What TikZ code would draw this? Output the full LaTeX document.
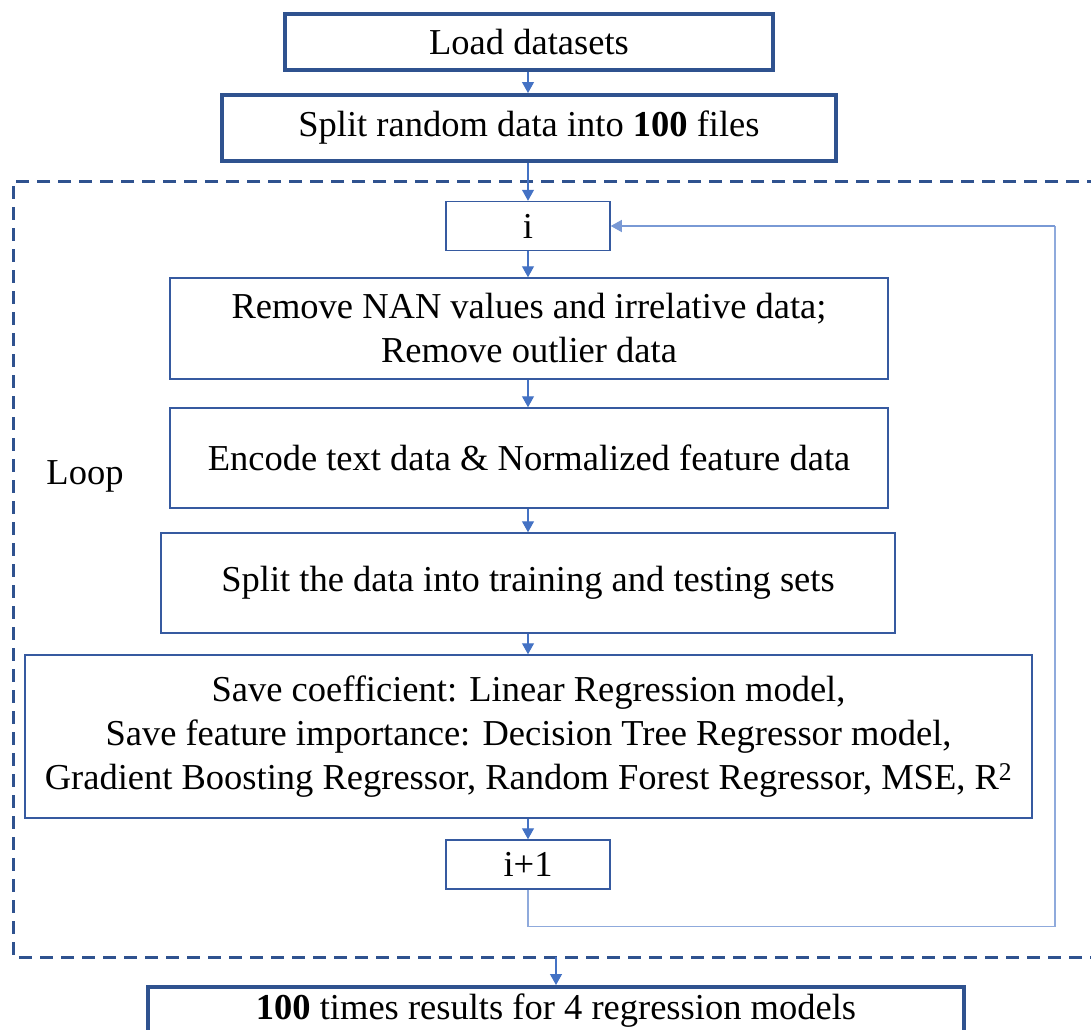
\documentclass[tikz,border=0pt]{standalone}
\usepackage{fontspec}
\setmainfont{Liberation Serif}
\usetikzlibrary{arrows.meta}
\definecolor{darkb}{RGB}{47,82,143}
\definecolor{midb}{RGB}{54,90,160}
\definecolor{arrb}{RGB}{68,114,196}
\definecolor{lightb}{RGB}{143,170,220}
\tikzset{
  thickbox/.style={draw=darkb, line width=4pt, inner sep=0pt, font=\fontsize{36.5}{44}\selectfont},
  thinbox/.style={draw=midb, line width=1.5pt, inner sep=0pt, align=center, font=\fontsize{36.5}{44}\selectfont},
  conn/.style={draw=arrb, line width=1.2pt, -{Triangle[length=11pt,width=12pt]}},
  loopline/.style={draw=lightb, line width=1.2pt},
  loopframe/.style={draw=darkb, line width=3pt, dash pattern=on 13pt off 8pt}
}
\begin{document}
\begin{tikzpicture}[x=1pt,y=-1pt]
\useasboundingbox (0,0) rectangle (1091,1029);
\clip (0,0) rectangle (1091,1029);
% dashed loop frame
\draw[loopframe] (1100,181) -- (13,181) -- (13,957) -- (1100,957);
\node[thickbox, minimum width=488pt, minimum height=56pt] (load) at (529,42) {Load datasets};
\node[thickbox, minimum width=614pt, minimum height=66pt] (split) at (529,128) {Split random data into \textbf{100} files};
\node[thinbox, minimum width=164pt, minimum height=49pt] (i) at (528,226) {i};
\node[thinbox, minimum width=718pt, minimum height=101pt] (remove) at (529,328.5) {Remove NAN values and irrelative data;\\Remove outlier data};
\node[thinbox, minimum width=718pt, minimum height=100pt] (encode) at (529,458) {Encode text data \& Normalized feature data};
\node[thinbox, minimum width=734pt, minimum height=100pt] (sdata) at (528,583) {Split the data into training and testing sets};
\node[thinbox, minimum width=1007pt, minimum height=163pt] (save) at (528.5,736.5) {Save coefficient: Linear Regression model,\\Save feature importance: Decision Tree Regressor model,\\Gradient Boosting Regressor, Random Forest Regressor, MSE, R\textsuperscript{2}};
\node[thinbox, minimum width=164pt, minimum height=49pt] (ip1) at (528,864.5) {i+1};
\node[thickbox, minimum width=816pt, minimum height=48pt, anchor=north] (final) at (556,985) {\textbf{100} times results for 4 regression models};
\node[font=\fontsize{36.5}{44}\selectfont] (loop) at (85,476) {Loop};
\coordinate (fr) at (556,957);
% connectors
\draw[conn] (load.south -| i.north) -- (split.north -| i.north);
\draw[conn] (i.north |- split.south) -- (i.north);
\draw[conn] (i.south) -- (i.south |- remove.north);
\draw[conn] (i.south |- remove.south) -- (i.south |- encode.north);
\draw[conn] (i.south |- encode.south) -- (i.south |- sdata.north);
\draw[conn] (i.south |- sdata.south) -- (i.south |- save.north);
\draw[conn] (i.south |- save.south) -- (ip1.north);
\draw[loopline] (ip1.south) -- ++(0,37) -| (1055,226);
\draw[conn, draw=lightb!70!arrb] (1055,226) -- (i.east);
\draw[conn] (fr) -- (fr |- final.north);
\end{tikzpicture}
\end{document}
